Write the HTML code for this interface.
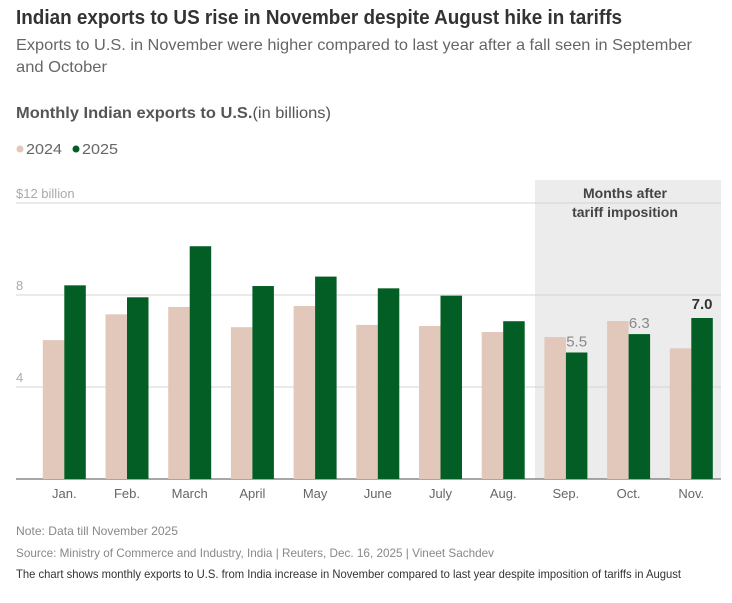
<!DOCTYPE html>
<html><head><meta charset="utf-8"><style>
body{margin:0;background:#fff;}
svg{display:block;font-family:"Liberation Sans Narrow","Liberation Sans",sans-serif;}
</style></head><body>
<svg id="chart" width="732" height="603" viewBox="0 0 732 603" xmlns="http://www.w3.org/2000/svg">
<text x="16" y="24" font-size="20" font-weight="bold" fill="#333" textLength="606" lengthAdjust="spacingAndGlyphs">Indian exports to US rise in November despite August hike in tariffs</text>
<text x="16" y="50" font-size="16" fill="#666" textLength="676" lengthAdjust="spacingAndGlyphs">Exports to U.S. in November were higher compared to last year after a fall seen in September</text>
<text x="16" y="72" font-size="16" fill="#666" textLength="91" lengthAdjust="spacingAndGlyphs">and October</text>
<text x="16" y="118" font-size="16" fill="#555" textLength="315" lengthAdjust="spacingAndGlyphs"><tspan font-weight="bold">Monthly Indian exports to U.S.</tspan>(in billions)</text>
<g>
<circle cx="20" cy="149" r="3.5" fill="#e2c8ba"/>
<text x="26" y="154" font-size="15" fill="#666" textLength="36" lengthAdjust="spacingAndGlyphs">2024</text>
<circle cx="76" cy="149" r="3.5" fill="#025e24"/>
<text x="82" y="154" font-size="15" fill="#666" textLength="36" lengthAdjust="spacingAndGlyphs">2025</text>
</g>
<rect x="535" y="180" width="186" height="299" fill="#ececec"/>
<text x="625" y="198" font-size="14" font-weight="bold" fill="#444" text-anchor="middle">Months after</text>
<text x="625" y="217" font-size="14" font-weight="bold" fill="#444" text-anchor="middle">tariff imposition</text>
<g id="grid"></g>
<g id="bars"></g>
<g id="labels"></g>
<text x="16" y="535" font-size="12" fill="#888" textLength="162" lengthAdjust="spacingAndGlyphs">Note: Data till November 2025</text>
<text x="16" y="557" font-size="12" fill="#888" textLength="478" lengthAdjust="spacingAndGlyphs">Source: Ministry of Commerce and Industry, India | Reuters, Dec. 16, 2025  | Vineet Sachdev</text>
<text x="16" y="578" font-size="12" fill="#333" textLength="665" lengthAdjust="spacingAndGlyphs">The chart shows monthly exports to U.S. from India increase in November compared to last year despite imposition of tariffs in August</text>
</svg>
<script>
const categories=["Jan.","Feb.","March","April","May","June","July","Aug.","Sep.","Oct.","Nov."];
const values2024=[6.04,7.16,7.48,6.6,7.52,6.7,6.65,6.39,6.17,6.87,5.68];
const values2025=[8.42,7.9,10.12,8.39,8.8,8.29,7.97,6.86,5.5,6.3,7.0];
const yTicks=[4,8,12];
const tickLabels=["4","8","$12 billion"];
const NS="http://www.w3.org/2000/svg";
const y0=479,ppu=23,x0=64.3,step=62.7,bw=21.5;
const y=v=>y0-v*ppu;
const x=i=>x0+i*step;
function mk(tag,attrs,parent){const e=document.createElementNS(NS,tag);for(const k in attrs)e.setAttribute(k,attrs[k]);parent.appendChild(e);return e;}
const grid=document.getElementById('grid'),bars=document.getElementById('bars'),labels=document.getElementById('labels');
yTicks.forEach((t,i)=>{
  const l=mk('line',{x1:16,x2:721,y1:y(t),y2:y(t),stroke:'#d4d4d4','stroke-width':1},grid);
  
  
  const tx=mk('text',{x:16,y:y(t)-5,'font-size':13,fill:'#aaa'},grid);
  tx.textContent=tickLabels[i];
  
  
});
categories.forEach((c,i)=>{
  const a=mk('rect',{x:x(i)-bw,y:y(values2024[i]),width:bw,height:values2024[i]*ppu,fill:'#e2c8ba'},bars);
  
  
  const b=mk('rect',{x:x(i),y:y(values2025[i]),width:bw,height:values2025[i]*ppu,fill:'#025e24'},bars);
  
  
  const t=mk('text',{x:x(i),y:498,'font-size':13,fill:'#666','text-anchor':'middle'},labels);
  t.textContent=c;
  
  
  if(i>=8){
    const last=i===categories.length-1;
    const v=mk('text',{x:x(i)+bw/2,y:y(values2025[i])-(last?9:6),'font-size':15,fill:last?'#333':'#888','font-weight':last?'bold':'normal','text-anchor':'middle'},labels);
    v.textContent=values2025[i].toFixed(1);
    
    
  }
});
const base=mk('line',{x1:16,x2:721,y1:y0,y2:y0,stroke:'#888','stroke-width':1.5},grid);


</script>
</body></html>
